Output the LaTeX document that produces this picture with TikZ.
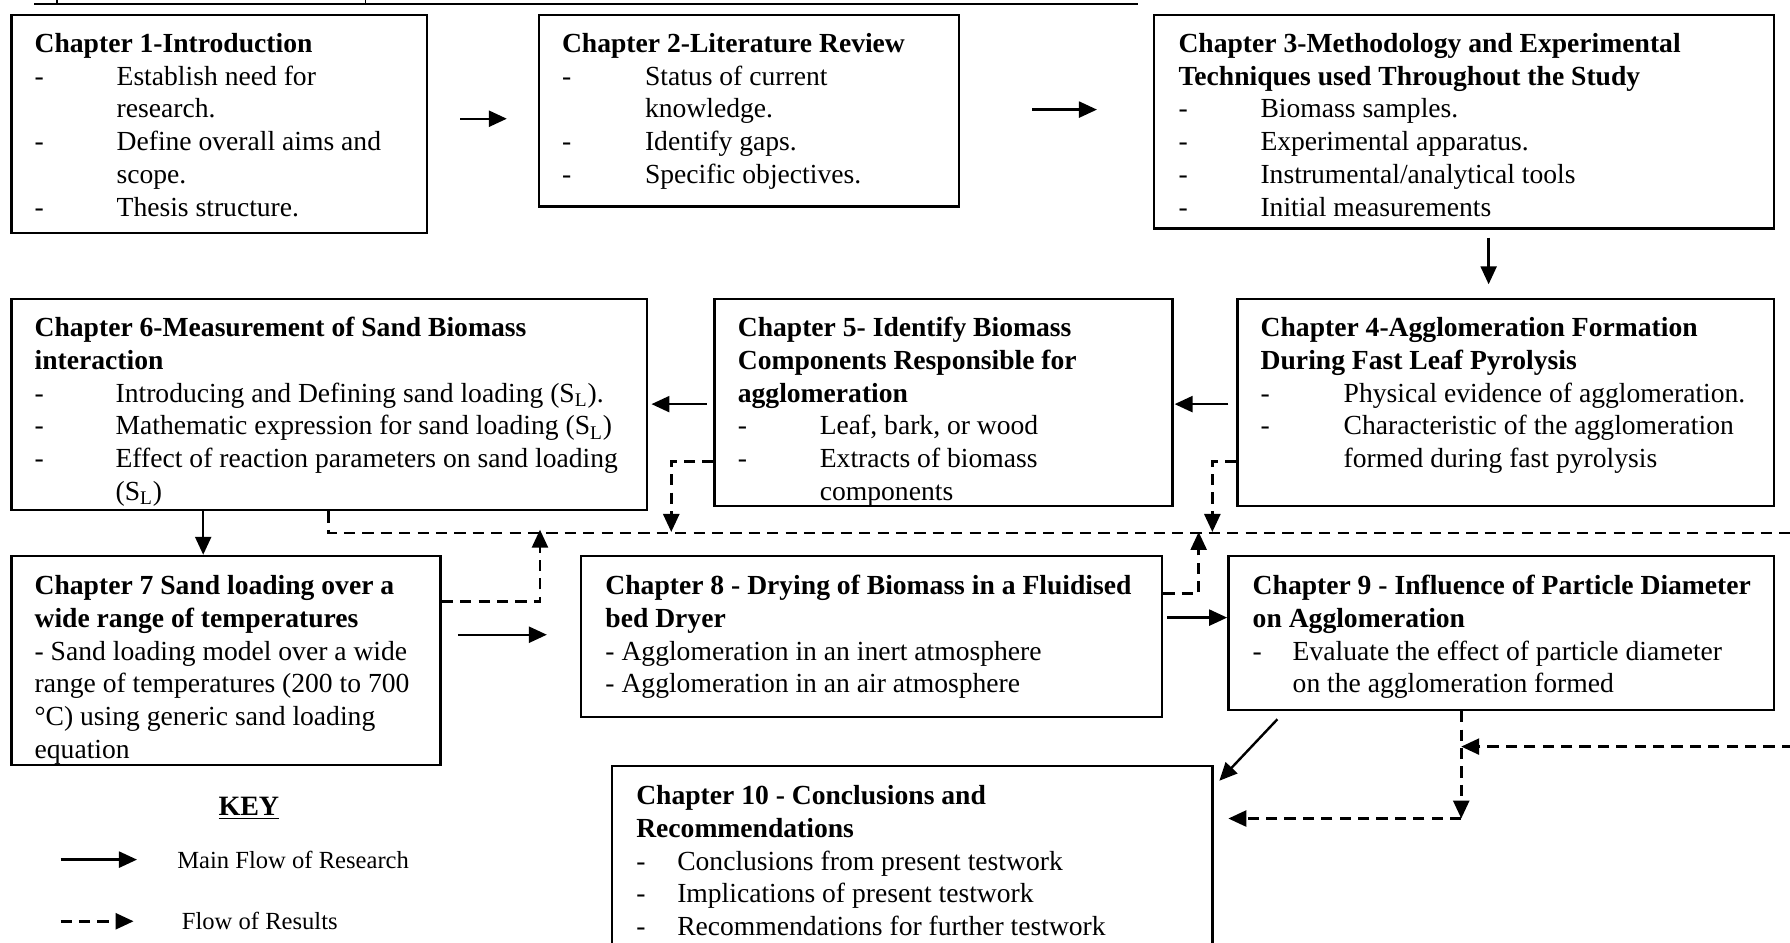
\documentclass[tikz,border=0pt]{standalone}
\usepackage{fontspec}
\setmainfont{Liberation Serif}
\usetikzlibrary{arrows.meta,calc,fit}
\newcommand{\chtitle}[1]{\multicolumn{2}{@{}l@{}}{\textbf{#1}}}
\tikzset{
  box/.style={draw, line width=1.2pt, inner sep=0pt},
  txt/.style={anchor=base west, inner sep=0pt, font=\fontsize{13.8}{16.35}\selectfont},
  arr/.style={line width=1.2pt, -{Triangle[length=9pt,width=8pt]}},
  darr/.style={line width=1.3pt, dash pattern=on 5.6pt off 3.6pt, -{Triangle[length=9pt,width=8pt]}},
  keytxt/.style={anchor=west, inner sep=0pt, font=\fontsize{12.3}{14}\selectfont},
}
\begin{document}
\begin{tikzpicture}[x=0.5708pt,y=-0.5708pt]
\useasboundingbox (0,0) rectangle (1568,826);
\clip (0,0) rectangle (1568,826);

% remnant of a rule at the top
\draw[line width=1.2pt] (30,3.5) -- (997,3.5);
\draw[line width=0.6pt] (50,0) -- (50,3.5) (320,0) -- (320,3.5);

% boxes
\node[box, fit={(10,13) (374,204)}] (c1) {};
\node[box, fit={(472,13) (840,181)}] (c2) {};
\node[box, fit={(1011,13) (1554,200)}] (c3) {};
\node[box, fit={(1084,262) (1554,443)}] (c4) {};
\node[box, fit={(626,262) (1027,443)}] (c5) {};
\node[box, fit={(10,262) (567,447)}] (c6) {};
\node[box, fit={(10,487) (386,670)}] (c7) {};
\node[box, fit={(509,487) (1018,628)}] (c8) {};
\node[box, fit={(1076,487) (1554,622)}] (c9) {};
\node[box, fit={(536,671) (1062,880)}] (c10) {};

% texts
\node[txt] (t1) at (30,46) {\begin{tabular}[t]{@{}p{41pt}@{}l@{}}
\chtitle{Chapter 1-Introduction}\\
- & Establish need for\\
  & research.\\
- & Define overall aims and\\
  & scope.\\
- & Thesis structure.
\end{tabular}};

\node[txt] (t2) at (492,46) {\begin{tabular}[t]{@{}p{41.5pt}@{}l@{}}
\chtitle{Chapter 2-Literature Review}\\
- & Status of current\\
  & knowledge.\\
- & Identify gaps.\\
- & Specific objectives.
\end{tabular}};

\node[txt] (t3) at (1032,46) {\begin{tabular}[t]{@{}p{41pt}@{}l@{}}
\chtitle{Chapter 3-Methodology and Experimental}\\
\chtitle{Techniques used Throughout the Study}\\
- & Biomass samples.\\
- & Experimental apparatus.\\
- & Instrumental/analytical tools\\
- & Initial measurements
\end{tabular}};

\node[txt] (t4) at (1104,295) {\begin{tabular}[t]{@{}p{41.5pt}@{}l@{}}
\chtitle{Chapter 4-Agglomeration Formation}\\
\chtitle{During Fast Leaf Pyrolysis}\\
- & Physical evidence of agglomeration.\\
- & Characteristic of the agglomeration\\
  & formed during fast pyrolysis
\end{tabular}};

\node[txt] (t5) at (646,295) {\begin{tabular}[t]{@{}p{41pt}@{}l@{}}
\chtitle{Chapter 5- Identify Biomass}\\
\chtitle{Components Responsible for}\\
\chtitle{agglomeration}\\
- & Leaf, bark, or wood\\
- & Extracts of biomass\\
  & components
\end{tabular}};

\node[txt] (t6) at (30,295) {\begin{tabular}[t]{@{}p{40.5pt}@{}l@{}}
\chtitle{Chapter 6-Measurement of Sand Biomass}\\
\chtitle{interaction}\\
- & Introducing and Defining sand loading (S\textsubscript{L}).\\
- & Mathematic expression for sand loading (S\textsubscript{L})\\
- & Effect of reaction parameters on sand loading\\
  & (S\textsubscript{L})
\end{tabular}};

\node[txt] (t7) at (30,521) {\begin{tabular}[t]{@{}l@{}}
\textbf{Chapter 7 Sand loading over a}\\
\textbf{wide range of temperatures}\\
- Sand loading model over a wide\\
range of temperatures (200 to 700\\
°C) using generic sand loading\\
equation
\end{tabular}};

\node[txt] (t8) at (530,521) {\begin{tabular}[t]{@{}l@{}}
\textbf{Chapter 8 - Drying of Biomass in a Fluidised}\\
\textbf{bed Dryer}\\
- Agglomeration in an inert atmosphere\\
- Agglomeration in an air atmosphere
\end{tabular}};

\node[txt] (t9) at (1097,521) {\begin{tabular}[t]{@{}p{20pt}@{}l@{}}
\chtitle{Chapter 9 - Influence of Particle Diameter}\\
\chtitle{on Agglomeration}\\
- & Evaluate the effect of particle diameter\\
  & on the agglomeration formed
\end{tabular}};

\node[txt] (t10) at (557,705) {\begin{tabular}[t]{@{}p{20.5pt}@{}l@{}}
\chtitle{Chapter 10 - Conclusions and}\\
\chtitle{Recommendations}\\
- & Conclusions from present testwork\\
- & Implications of present testwork\\
- & Recommendations for further testwork
\end{tabular}};

% main flow
\draw[arr, shorten <=16pt, shorten >=15.4pt] (c1.east |- 0,104) -- (c2.west |- 0,104);
\draw[arr, shorten <=36pt, shorten >=28pt] (c2.east |- 0,96) -- (c3.west |- 0,96);
\draw[arr, shorten <=4pt, shorten >=6.8pt] (1304,0 |- c3.south) -- (1304,0 |- c4.north);
\draw[arr, shorten <=4pt, shorten >=0.5pt] (c4.west |- 0,354) -- (c5.east |- 0,354);
\draw[arr, shorten <=3.4pt, shorten >=1.5pt] (c5.west |- 0,354) -- (c6.east |- 0,354);
\draw[arr] (178,0 |- c6.south) -- (178,0 |- c7.north);
\draw[arr, shorten <=8pt, shorten >=16.5pt] (c7.east |- 0,556) -- (c8.west |- 0,556);
\draw[arr, shorten <=2pt] (c8.east |- 0,541) -- (c9.west |- 0,541);
\draw[arr] ($(c9.south west)+(44,7)$) -- ($(c10.north east)+(5,14)$);

% flow of results
\coordinate (j9) at (1280,654);
\draw[darr] (288,0 |- c6.south) -- (288,467) -- (1600,467) -- (1600,654) -- (j9);
\draw[darr] (c5.west |- 0,404) -- (588,404) -- (588,466);
\draw[darr] (c4.west |- 0,404) -- (1062,404) -- (1062,466);
\draw[darr] (c7.east |- 0,527) -- (473,527) -- (473,464);
\draw[darr] (c8.east |- 0,520) -- (1050,520) -- (1050,466);
\coordinate (k9) at (1280,717);
\draw[darr] (1280,0 |- c9.south) -- (k9);
\draw[darr, shorten >=7.4pt] (k9) -- (c10.east |- k9);

% key
\node[inner sep=0pt, font=\bfseries\fontsize{14}{16}\selectfont] (key) at (218,708) {\underline{KEY}};
\coordinate (ka1) at (53,753);
\coordinate (kb1) at (120,753);
\draw[arr] (ka1) -- (kb1);
\node[keytxt] (kt1) at (155,753) {Main Flow of Research};
\coordinate (ka2) at (53,807);
\coordinate (kb2) at (117,807);
\draw[darr] (ka2) -- (kb2);
\node[keytxt] (kt2) at (159,807) {Flow of Results};
\end{tikzpicture}
\end{document}
